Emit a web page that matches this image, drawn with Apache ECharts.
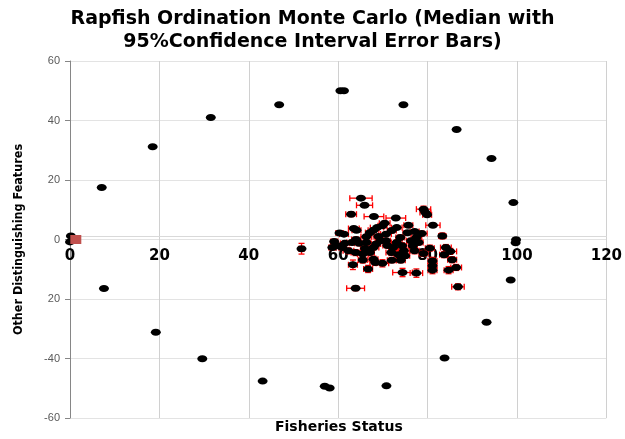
<!DOCTYPE html>
<html>
<head>
<meta charset="utf-8">
<script src="https://cdn.jsdelivr.net/npm/echarts@6/dist/echarts.min.js"></script>
<style>
  html, body { margin: 0; padding: 0; background: #fff; }
  #chart { width: 625px; height: 439px; }
</style>
</head>
<body>
<div id="chart"></div>
<script>
// Median positions of the Monte Carlo runs (x = Fisheries Status, y = Other Distinguishing Features)
var medianX = [
  60.5, 61.3, 46.8, 74.6, 31.5, 86.5, 18.5, 94.3, 7.1, 99.2, 99.8, 99.7, 0.2, 0.0,
  7.6, 98.6, 93.2, 19.2, 29.6, 83.8, 43.1, 57.0, 58.1, 70.8,
  65.1, 65.9, 62.9, 68.0, 72.9, 79.1, 79.5, 79.9, 81.2, 75.7, 73.1, 70.4, 69.9, 68.7,
  67.9, 67.1, 63.5, 64.1, 60.3, 61.3, 59.1, 83.3, 78.7, 77.1, 75.5, 73.9, 70.7, 70.7,
  66.3, 66.3, 64.7, 63.1, 61.5, 59.9, 62.3, 63.9, 65.5, 67.1, 67.9, 69.5, 72.3, 73.1,
  74.3, 71.9, 73.5, 74.7, 76.7, 77.1, 76.3, 77.5, 80.5, 79.1, 81.1, 81.1, 81.1, 84.1,
  85.1, 83.7, 85.5, 84.7, 86.4, 86.8, 77.5, 74.4, 69.9, 68.3, 66.7, 67.9, 65.5, 63.3,
  63.9, 51.8, 60.9, 58.7, 72.0, 69.0, 71.0, 74.0, 72.0, 66.0, 64.0, 75.0, 78.0, 68.5
];
var medianY = [
  50.0, 50.0, 45.3, 45.3, 41.0, 37.0, 31.2, 27.2, 17.5, 12.4, -0.1, -1.1, 1.2, -0.8,
  -16.5, -13.6, -27.8, -31.2, -40.1, -39.8, -47.6, -49.3, -49.9, -49.2,
  13.9, 11.5, 8.5, 7.7, 7.2, 10.2, 9.1, 8.3, 4.8, 4.8, 4.0, 5.5, 4.6, 4.0,
  3.1, 2.3, 3.7, 3.1, 2.2, 1.8, -0.7, 1.2, 2.0, 2.7, 2.3, 0.7, 1.8, -0.4,
  0.9, -1.0, -1.3, -1.0, -1.3, -2.1, -3.8, -4.4, -4.9, -4.4, -2.7, -0.4, -2.7, -1.0,
  -2.1, -4.4, -5.1, -3.8, -2.1, -3.8, -0.4, 0.7, -2.9, -4.7, -7.2, -8.8, -10.3, -2.7,
  -4.0, -5.1, -6.8, -10.3, -9.4, -15.9, -11.3, -11.1, -8.0, -7.7, -9.9, -6.6, -6.9, -8.5,
  -16.4, -3.1, -2.7, -2.7, 3.0, 1.0, -2.0, -7.0, -7.0, -3.0, 0.0, -5.5, -1.0, -1.5
];
// Half widths of the 95% confidence interval error bars
var errX = [
  0, 0, 0, 0, 0, 0, 0, 0, 0, 0, 0, 0, 0, 0,
  0, 0, 0, 0, 0, 0, 0, 0, 0, 0,
  2.5, 1.8, 1.2, 2.2, 2.2, 1.6, 1.2, 1.0, 1.6, 1.0, 1.2, 1.2, 1.0, 1.5,
  1.2, 1.0, 1.2, 1.0, 0.8, 1.0, 0.8, 0.8, 1.2, 1.0, 1.0, 1.0, 1.2, 1.0,
  1.2, 1.0, 1.0, 1.2, 1.0, 0.8, 1.2, 1.0, 1.2, 1.0, 1.2, 1.2, 1.0, 1.2,
  1.0, 1.2, 1.0, 1.2, 1.0, 1.0, 1.0, 1.2, 1.0, 1.0, 1.0, 1.0, 1.0, 1.2,
  1.4, 1.0, 1.0, 1.0, 1.2, 1.4, 1.4, 2.2, 1.4, 1.2, 1.0, 1.0, 1.0, 1.0,
  2.0, 0.6, 0.8, 0.8, 1.0, 1.0, 1.0, 1.0, 1.0, 1.0, 1.0, 1.0, 1.0, 1.0
];
var errY = [
  0, 0, 0, 0, 0, 0, 0, 0, 0, 0, 0, 0, 0, 0,
  0, 0, 0, 0, 0, 0, 0, 0, 0, 0,
  0.5, 0.6, 0.8, 0.6, 0.6, 1.0, 0.8, 0.6, 0.6, 0.6, 0.6, 0.6, 0.6, 0.6,
  0.6, 0.6, 0.6, 0.6, 0.6, 0.6, 0.8, 1.0, 0.8, 0.6, 0.6, 0.8, 0.6, 0.8,
  0.8, 0.8, 0.8, 0.8, 0.8, 0.8, 1.0, 1.0, 1.2, 0.8, 0.8, 0.8, 1.0, 0.8,
  1.0, 1.0, 1.2, 0.8, 1.0, 1.0, 0.8, 0.8, 1.0, 1.0, 1.2, 1.2, 1.2, 1.0,
  1.0, 1.0, 1.0, 1.2, 1.0, 1.0, 1.4, 1.4, 1.2, 1.0, 1.2, 1.0, 1.0, 1.6,
  0.8, 1.8, 0.8, 0.8, 0.8, 0.8, 0.8, 0.8, 0.8, 0.8, 0.8, 0.8, 0.8, 0.8
];
// Reference point (red square)
var refX = [1.3];
var refY = [0];

var xTicks = [0, 20, 40, 60, 80, 100, 120];
var yTicks = [-60, -40, -20, 0, 20, 40, 60];
var yTickText = ['-60', '-40', '20', '0', '20', '40', '60'];

var points = medianX.map(function (x, i) { return [x, medianY[i]]; });
var errData = medianX.map(function (x, i) { return [x, medianY[i], errX[i], errY[i]]; });

var myChart = echarts.init(document.getElementById('chart'));

// draws the red error bars with caps
function renderErr(params, api) {
  var x = api.value(0), y = api.value(1), ex = api.value(2), ey = api.value(3);
  var kids = [];
  var style = { stroke: '#ff0000', lineWidth: 1.3 };
  if (ex > 0) {
    var l = api.coord([x - ex, y]), r = api.coord([x + ex, y]);
    kids.push({ type: 'line', shape: { x1: l[0], y1: l[1], x2: r[0], y2: r[1] }, style: style });
    kids.push({ type: 'line', shape: { x1: l[0], y1: l[1] - 3, x2: l[0], y2: l[1] + 3 }, style: style });
    kids.push({ type: 'line', shape: { x1: r[0], y1: r[1] - 3, x2: r[0], y2: r[1] + 3 }, style: style });
  }
  if (ey > 0) {
    var t = api.coord([x, y + ey]), b = api.coord([x, y - ey]);
    kids.push({ type: 'line', shape: { x1: t[0], y1: t[1], x2: b[0], y2: b[1] }, style: style });
    kids.push({ type: 'line', shape: { x1: t[0] - 3, y1: t[1], x2: t[0] + 3, y2: t[1] }, style: style });
    kids.push({ type: 'line', shape: { x1: b[0] - 3, y1: b[1], x2: b[0] + 3, y2: b[1] }, style: style });
  }
  return { type: 'group', children: kids };
}

var gridBottom = 21;

var option = {
  animation: false,
  backgroundColor: '#fff',
  title: {
    text: 'Rapfish Ordination Monte Carlo (Median with\n95%Confidence Interval Error Bars)',
    left: 'center',
    top: 3,
    textStyle: { fontFamily: 'DejaVu Sans', fontWeight: 'bold', fontSize: 19, color: '#000', lineHeight: 23 }
  },
  graphic: [{
    type: 'text',
    left: 275,
    top: 420,
    style: { text: 'Fisheries Status', fontFamily: 'DejaVu Sans', fontWeight: 'bold', fontSize: 14, fill: '#000' }
  }],
  grid: { left: 70, right: 17, top: 61, bottom: gridBottom },
  xAxis: {
    type: 'value',
    min: 0, max: 120, interval: 20,
    position: 'bottom',
    offset: 0,
    axisLine: { onZero: false, lineStyle: { color: '#d9d9d9' } },
    axisTick: { show: false },
    axisLabel: {
      fontFamily: 'DejaVu Sans', fontWeight: 'bold', fontSize: 15, color: '#000', margin: 13,
      formatter: function (v) { return xTicks.indexOf(v) >= 0 ? String(v) : ''; }
    },
    splitLine: { show: true, lineStyle: { color: '#d0d0d0' } }
  },
  yAxis: {
    type: 'value',
    min: -60, max: 60, interval: 20,
    name: 'Other Distinguishing Features',
    nameLocation: 'middle',
    nameGap: 45,
    nameTextStyle: { fontFamily: 'DejaVu Sans Condensed', fontWeight: 'bold', fontSize: 12.5, color: '#000' },
    axisLine: { show: true, onZero: false, lineStyle: { color: '#868686' } },
    axisTick: { show: true, length: 5, lineStyle: { color: '#868686' } },
    axisLabel: {
      fontFamily: 'Liberation Sans', fontSize: 11, color: '#595959', margin: 10,
      formatter: function (v) { var i = yTicks.indexOf(v); return i >= 0 ? yTickText[i] : ''; }
    },
    splitLine: { show: true, lineStyle: { color: '#e3e3e3' } }
  },
  series: [
    {
      type: 'custom',
      renderItem: renderErr,
      data: errData,
      z: 2,
      silent: true
    },
    {
      type: 'scatter',
      data: points,
      symbol: 'circle',
      symbolSize: [10, 7],
      itemStyle: { color: '#000', opacity: 1 },
      z: 3
    },
    {
      type: 'scatter',
      data: refX.map(function (x, i) { return [x, refY[i]]; }),
      symbol: 'rect',
      symbolSize: [11, 9],
      itemStyle: { color: '#c0504d', opacity: 1 },
      z: 4
    }
  ]
};

myChart.setOption(option);

// move the x axis (line and labels) up to where y = 0 sits on the value axis
var zeroPx = myChart.convertToPixel({ yAxisIndex: 0 }, 0);
var bottomPx = myChart.getHeight() - gridBottom;
myChart.setOption({ xAxis: { offset: zeroPx - bottomPx } });
</script>
</body>
</html>
